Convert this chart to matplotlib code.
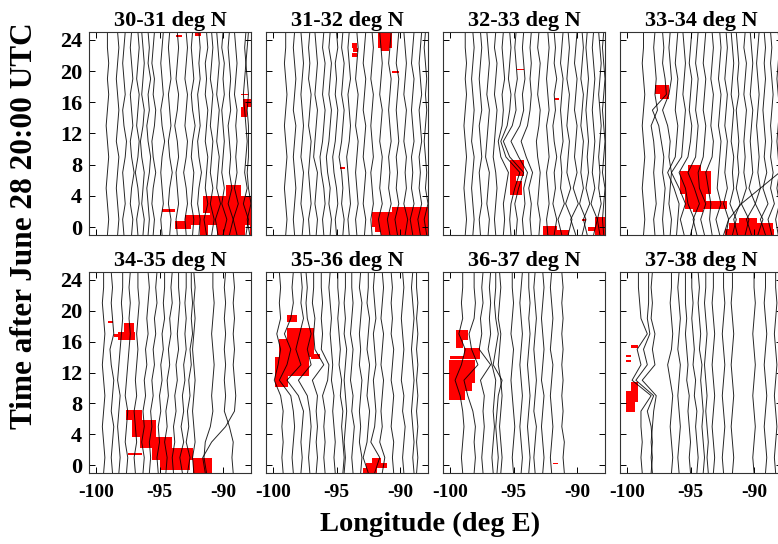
import matplotlib
matplotlib.use("Agg")
import matplotlib.pyplot as plt
from matplotlib.patches import Rectangle

plt.rcParams['font.family'] = ['Liberation Serif', 'DejaVu Serif']
plt.rcParams['font.weight'] = 'bold'
plt.rcParams['axes.unicode_minus'] = False

# hours after June 28 20:00 UTC at which each trajectory is sampled
HOURS = [-1, 1, 3, 5, 7, 9, 11, 13, 15, 17, 19, 21, 23, 25]

BANDS = ["30-31 deg N", "31-32 deg N", "32-33 deg N", "33-34 deg N",
         "34-35 deg N", "35-36 deg N", "36-37 deg N", "37-38 deg N"]
LON_TICKS = [-100, -95, -90]
TIME_TICKS = [0, 4, 8, 12, 16, 20, 24]

# ---- trajectory longitudes (deg E), one list per trajectory, sampled at HOURS ----
TRACKS_30 = [
    [-99.1, -99.0, -99.1, -99.2, -99.1, -99.0, -99.1, -99.2, -99.1, -99.0, -99.1, -99.0, -99.1, -99.1],
    [-98.3, -98.2, -98.3, -98.4, -98.3, -98.2, -98.4, -98.3, -98.2, -98.3, -98.4, -98.3, -98.2, -98.3],
    [-97.8, -97.9, -97.7, -97.8, -97.9, -97.7, -97.6, -97.8, -97.9, -97.7, -97.8, -97.9, -97.8, -97.7],
    [-97.2, -97.1, -97.3, -97.2, -97.0, -97.2, -97.3, -97.1, -97.2, -97.3, -97.1, -97.2, -97.3, -97.2],
    [-96.7, -96.8, -96.6, -96.7, -96.9, -96.7, -96.6, -96.8, -96.7, -96.6, -96.8, -96.7, -96.6, -96.7],
    [-96.3, -96.2, -96.4, -96.3, -96.2, -96.4, -96.5, -96.3, -96.2, -96.4, -96.3, -96.2, -96.3, -96.4],
    [-95.9, -95.8, -95.9, -96.0, -95.8, -95.7, -95.9, -96.0, -95.8, -95.9, -95.7, -95.9, -95.8, -95.9],
    [-95.5, -95.4, -95.6, -95.5, -95.3, -95.5, -95.6, -95.4, -95.3, -95.5, -95.4, -95.6, -95.5, -95.4],
    [-94.8, -94.9, -94.7, -94.8, -94.9, -94.8, -94.6, -94.8, -94.9, -94.7, -94.8, -94.9, -94.8, -94.7],
    [-94.2, -94.1, -94.3, -94.2, -94.0, -94.2, -94.3, -94.1, -94.2, -94.3, -94.1, -94.2, -94.3, -94.2],
    [-93.6, -93.7, -93.5, -93.6, -93.7, -93.5, -93.6, -93.8, -93.6, -93.5, -93.7, -93.6, -93.5, -93.6],
    [-92.9, -93.0, -92.8, -92.9, -93.1, -92.9, -92.8, -93.0, -92.9, -92.8, -93.0, -92.9, -92.8, -92.9],
    [-92.4, -92.3, -92.5, -92.4, -92.3, -92.5, -92.4, -92.2, -92.4, -92.5, -92.3, -92.4, -92.5, -92.4],
    [-91.9, -91.8, -92.0, -91.9, -91.7, -91.9, -92.0, -91.8, -91.9, -92.0, -91.8, -91.9, -91.8, -91.9],
    [-91.3, -91.5, -91.2, -91.4, -91.3, -91.2, -91.4, -91.3, -91.2, -91.4, -91.3, -91.4, -91.2, -91.3],
    [-90.9, -90.7, -91.0, -90.8, -91.0, -90.9, -90.8, -91.0, -90.9, -90.8, -91.0, -90.9, -90.8, -90.9],
    [-90.4, -90.6, -90.2, -90.5, -90.4, -90.3, -90.5, -90.4, -90.3, -90.5, -90.4, -90.3, -90.4, -90.5],
    [-90.0, -89.7, -90.1, -89.9, -90.1, -90.0, -89.9, -90.0, -90.1, -89.9, -90.0, -89.9, -90.1, -90.0],
    [-89.5, -89.2, -89.6, -89.3, -89.5, -89.4, -89.5, -89.6, -89.4, -89.5, -89.4, -89.5, -89.6, -89.5],
    [-88.9, -89.2, -88.8, -89.1, -88.9, -89.0, -88.9, -89.0, -88.9, -89.1, -89.0, -88.9, -89.0, -89.1],
    [-88.2, -88.0, -88.4, -88.1, -88.3, -88.2, -88.1, -88.2, -88.3, -88.4, -88.3, -88.2, -88.3, -88.2],
    [-87.9, -88.1, -87.8, -88.0, -88.1, -88.0, -88.0, -88.0, -88.1, -88.0, -88.1, -88.2, -88.1, -88.0],
]
TRACKS_31 = [
    [-99.0, -98.9, -99.0, -99.1, -99.0, -98.9, -99.0, -99.1, -99.0, -98.9, -99.0, -99.1, -99.0, -99.0],
    [-98.3, -98.4, -98.3, -98.2, -98.3, -98.4, -98.3, -98.2, -98.4, -98.3, -98.2, -98.3, -98.4, -98.3],
    [-97.7, -97.6, -97.8, -97.7, -97.6, -97.8, -97.7, -97.6, -97.7, -97.8, -97.7, -97.6, -97.7, -97.8],
    [-97.1, -97.2, -97.0, -97.1, -97.2, -97.1, -97.0, -97.2, -97.1, -97.0, -97.2, -97.1, -97.2, -97.1],
    [-96.6, -96.5, -96.7, -96.6, -96.5, -96.8, -96.7, -96.6, -96.5, -96.7, -96.6, -96.5, -96.6, -96.7],
    [-96.0, -96.1, -95.9, -96.0, -96.2, -96.3, -96.1, -96.0, -95.9, -96.1, -96.0, -95.9, -96.1, -96.0],
    [-95.5, -95.4, -95.6, -95.5, -95.7, -95.8, -95.6, -95.5, -95.4, -95.6, -95.5, -95.4, -95.6, -95.5],
    [-95.0, -95.1, -94.9, -95.0, -95.2, -95.3, -95.1, -95.0, -94.9, -95.1, -95.0, -95.1, -94.9, -95.0],
    [-94.5, -94.4, -94.6, -94.5, -94.6, -94.8, -94.6, -94.5, -94.4, -94.6, -94.5, -94.4, -94.6, -94.5],
    [-94.0, -94.1, -93.9, -94.0, -94.1, -94.2, -94.0, -93.9, -94.0, -94.1, -93.9, -94.0, -94.1, -94.0],
    [-93.4, -93.5, -93.3, -93.4, -93.5, -93.4, -93.3, -93.5, -93.4, -93.3, -93.5, -93.4, -93.3, -93.4],
    [-92.8, -92.7, -92.9, -92.8, -92.7, -92.9, -92.8, -92.7, -92.9, -92.8, -92.7, -92.9, -92.8, -92.7],
    [-92.2, -92.3, -92.1, -92.2, -92.3, -92.1, -92.2, -92.3, -92.2, -92.1, -92.3, -92.2, -92.1, -92.2],
    [-91.5, -91.7, -91.4, -91.6, -91.5, -91.4, -91.6, -91.5, -91.4, -91.6, -91.5, -91.4, -91.5, -91.6],
    [-90.8, -91.0, -90.7, -90.9, -90.8, -90.9, -90.7, -90.8, -90.9, -90.8, -90.7, -90.9, -90.8, -90.7],
    [-90.2, -90.4, -90.1, -90.3, -90.2, -90.3, -90.1, -90.2, -90.3, -90.2, -90.1, -90.3, -90.2, -90.1],
    [-89.6, -89.4, -89.7, -89.5, -89.6, -89.5, -89.7, -89.6, -89.5, -89.7, -89.6, -89.5, -89.6, -89.7],
    [-89.0, -89.2, -88.9, -89.1, -89.0, -89.1, -88.9, -89.0, -89.1, -89.0, -88.9, -89.1, -89.0, -88.9],
    [-88.4, -88.6, -88.3, -88.5, -88.4, -88.5, -88.3, -88.4, -88.5, -88.3, -88.4, -88.5, -88.4, -88.3],
    [-87.9, -88.1, -87.8, -88.0, -87.9, -88.0, -88.1, -88.0, -87.9, -88.0, -87.9, -88.0, -88.1, -88.0],
]
TRACKS_32 = [
    [-98.8, -98.7, -98.8, -98.9, -98.8, -98.7, -98.8, -98.9, -98.8, -98.7, -98.8, -98.7, -98.8, -98.8],
    [-98.2, -98.1, -98.2, -98.3, -98.2, -98.1, -98.3, -98.2, -98.1, -98.2, -98.3, -98.2, -98.1, -98.2],
    [-97.6, -97.7, -97.5, -97.6, -97.7, -97.5, -97.6, -97.7, -97.5, -97.6, -97.7, -97.6, -97.5, -97.6],
    [-97.0, -96.9, -97.1, -97.0, -96.9, -97.2, -97.1, -97.0, -96.9, -97.1, -97.0, -96.9, -97.0, -97.1],
    [-96.4, -96.5, -96.4, -96.3, -96.4, -96.6, -96.5, -96.4, -96.3, -96.5, -96.4, -96.3, -96.5, -96.4],
    [-95.8, -95.7, -95.8, -95.6, -95.4, -96.0, -96.2, -95.9, -95.8, -95.9, -95.7, -95.8, -95.9, -95.8],
    [-95.2, -95.3, -95.2, -94.9, -94.5, -95.6, -96.0, -95.5, -95.3, -95.2, -95.4, -95.3, -95.2, -95.3],
    [-94.8, -94.7, -94.9, -94.6, -94.2, -95.3, -95.8, -95.1, -94.8, -94.9, -94.7, -94.8, -94.9, -94.8],
    [-94.2, -94.3, -94.1, -94.2, -93.9, -94.6, -95.2, -94.5, -94.2, -94.3, -94.1, -94.2, -94.3, -94.2],
    [-93.6, -93.7, -93.6, -93.8, -93.5, -94.0, -94.4, -93.9, -93.7, -93.6, -93.7, -93.6, -93.7, -93.6],
    [-93.0, -92.9, -93.1, -93.0, -92.9, -93.1, -93.2, -93.0, -92.9, -93.1, -93.0, -92.9, -93.1, -93.0],
    [-92.3, -92.4, -92.2, -92.3, -92.4, -92.2, -92.3, -92.4, -92.2, -92.3, -92.4, -92.3, -92.2, -92.3],
    [-91.8, -91.6, -91.9, -91.7, -91.8, -91.6, -91.8, -91.9, -91.7, -91.8, -91.6, -91.8, -91.7, -91.8],
    [-91.2, -91.5, -91.0, -91.3, -91.2, -91.3, -91.1, -91.2, -91.3, -91.2, -91.1, -91.3, -91.2, -91.1],
    [-90.7, -90.4, -90.9, -90.5, -90.8, -90.7, -90.6, -90.8, -90.7, -90.6, -90.8, -90.7, -90.6, -90.7],
    [-90.1, -90.5, -89.9, -90.3, -90.0, -90.2, -90.1, -90.0, -90.2, -90.1, -90.0, -90.2, -90.1, -90.0],
    [-89.6, -89.3, -89.8, -89.5, -89.7, -89.6, -89.5, -89.7, -89.6, -89.5, -89.7, -89.6, -89.5, -89.6],
    [-89.2, -89.5, -89.0, -89.3, -89.1, -89.2, -89.1, -89.2, -89.3, -89.2, -89.1, -89.2, -89.3, -89.2],
    [-88.7, -88.4, -88.9, -88.6, -88.8, -88.7, -88.6, -88.7, -88.8, -88.7, -88.6, -88.7, -88.8, -88.7],
    [-88.2, -88.4, -88.1, -88.3, -88.2, -88.3, -88.2, -88.1, -88.2, -88.3, -88.2, -88.1, -88.2, -88.3],
    [-87.9, -88.0, -87.9, -87.8, -88.0, -87.9, -87.8, -87.9, -88.0, -87.9, -87.8, -87.9, -88.0, -87.9],
]
TRACKS_33 = [
    [-98.7, -98.6, -98.7, -98.8, -98.7, -98.6, -98.7, -98.8, -98.7, -98.6, -98.7, -98.8, -98.7, -98.7],
    [-97.8, -97.9, -97.7, -97.8, -97.9, -97.8, -97.9, -98.1, -97.6, -97.8, -97.7, -97.8, -97.9, -97.8],
    [-97.1, -97.2, -97.1, -97.0, -97.2, -97.1, -97.3, -97.5, -98.0, -96.9, -97.0, -97.2, -97.1, -97.2],
    [-96.6, -96.5, -96.7, -96.6, -96.5, -96.7, -96.6, -96.8, -97.2, -96.7, -96.5, -96.6, -96.7, -96.6],
    [-96.1, -96.0, -95.9, -96.3, -96.8, -96.2, -96.1, -96.0, -96.2, -96.1, -96.0, -96.2, -96.1, -96.0],
    [-95.5, -95.8, -95.4, -95.9, -96.5, -95.7, -95.6, -95.5, -95.4, -95.6, -95.5, -95.4, -95.5, -95.6],
    [-95.0, -94.7, -95.2, -95.4, -95.9, -95.2, -95.0, -94.9, -95.1, -95.0, -94.9, -95.1, -95.0, -94.9],
    [-94.5, -94.8, -94.3, -94.7, -95.2, -94.6, -94.5, -94.4, -94.6, -94.5, -94.4, -94.6, -94.5, -94.4],
    [-93.9, -94.2, -93.8, -94.3, -94.4, -94.0, -93.9, -93.8, -94.0, -93.9, -93.8, -94.0, -93.9, -93.8],
    [-93.3, -93.5, -93.4, -93.6, -93.8, -93.3, -93.2, -93.4, -93.3, -93.2, -93.4, -93.3, -93.2, -93.3],
    [-92.7, -93.0, -92.6, -92.9, -92.8, -92.7, -92.6, -92.8, -92.7, -92.6, -92.8, -92.7, -92.6, -92.7],
    [-92.2, -92.0, -92.4, -92.1, -92.3, -92.2, -92.1, -92.3, -92.2, -92.1, -92.3, -92.2, -92.1, -92.2],
    [-91.7, -91.4, -91.9, -91.6, -91.7, -91.6, -91.8, -91.7, -91.6, -91.8, -91.7, -91.6, -91.7, -91.8],
    [-91.3, -91.6, -91.1, -91.4, -91.2, -91.3, -91.2, -91.3, -91.4, -91.2, -91.3, -91.2, -91.3, -91.4],
    [-90.7, -90.4, -91.0, -90.6, -90.8, -90.7, -90.8, -90.7, -90.6, -90.8, -90.7, -90.6, -90.8, -90.7],
    [-90.2, -90.6, -89.9, -90.4, -90.1, -90.2, -90.3, -90.2, -90.1, -90.3, -90.2, -90.1, -90.2, -90.3],
    [-89.7, -89.3, -89.9, -89.5, -89.7, -89.6, -89.7, -89.8, -89.7, -89.6, -89.7, -89.8, -89.7, -89.6],
    [-89.1, -89.5, -88.9, -89.3, -89.0, -89.2, -89.1, -89.2, -89.3, -89.2, -89.1, -89.2, -89.1, -89.2],
    [-88.6, -88.9, -88.4, -88.7, -88.5, -88.7, -88.6, -88.7, -88.6, -88.5, -88.6, -88.7, -88.6, -88.7],
    [-88.1, -88.3, -88.0, -88.2, -88.0, -88.1, -88.2, -88.1, -88.0, -88.1, -88.2, -88.1, -88.0, -88.1],
    [-92.4, -92.0, -91.0, -89.5, -88.0, -87.9, -87.9, -88.0, -87.9, -87.8, -87.9, -88.0, -87.9, -87.8],
]
TRACKS_34 = [
    [-99.4, -99.3, -99.4, -99.5, -99.4, -99.3, -99.4, -99.5, -99.4, -99.3, -99.4, -99.5, -99.4, -99.4],
    [-98.7, -98.8, -98.7, -98.6, -98.8, -98.7, -98.6, -98.8, -98.9, -98.6, -98.7, -98.8, -98.7, -98.8],
    [-98.2, -98.1, -98.2, -98.3, -98.2, -98.1, -98.3, -98.2, -98.1, -98.0, -97.9, -98.0, -97.9, -97.9],
    [-97.6, -97.5, -97.7, -97.6, -97.5, -97.7, -97.6, -97.5, -97.4, -97.3, -97.4, -97.3, -97.4, -97.3],
    [-96.9, -97.0, -96.8, -96.9, -97.0, -96.8, -96.9, -96.8, -96.7, -96.8, -96.7, -96.6, -96.7, -96.7],
    [-96.3, -96.2, -96.4, -96.2, -96.3, -96.1, -96.2, -96.0, -96.1, -95.9, -96.0, -95.9, -95.8, -95.9],
    [-95.8, -95.7, -95.8, -95.6, -95.7, -95.5, -95.6, -95.4, -95.5, -95.3, -95.4, -95.2, -95.3, -95.2],
    [-95.1, -95.2, -95.0, -95.1, -94.9, -95.0, -94.8, -94.9, -94.7, -94.8, -94.6, -94.7, -94.6, -94.6],
    [-94.5, -94.4, -94.6, -94.4, -94.5, -94.3, -94.4, -94.2, -94.3, -94.1, -94.2, -94.0, -94.1, -94.0],
    [-93.9, -94.0, -93.8, -93.9, -93.7, -93.8, -93.6, -93.7, -93.5, -93.6, -93.5, -93.4, -93.5, -93.5],
    [-93.2, -93.4, -93.1, -93.3, -93.1, -93.2, -93.0, -93.1, -92.9, -93.0, -92.9, -93.0, -92.9, -92.9],
    [-92.8, -92.6, -92.9, -92.7, -92.8, -92.6, -92.7, -92.5, -92.6, -92.4, -92.5, -92.4, -92.5, -92.5],
    [-92.3, -92.4, -92.2, -92.3, -92.4, -92.3, -92.2, -92.3, -92.4, -92.3, -92.2, -92.3, -92.2, -92.3],
    [-91.3, -91.5, -91.4, -91.0, -90.8, -90.9, -90.8, -90.7, -90.8, -90.9, -90.8, -90.7, -90.8, -90.8],
    [-89.2, -89.3, -89.2, -89.5, -89.9, -89.8, -89.9, -89.8, -89.9, -89.8, -89.9, -89.8, -89.9, -89.8],
    [-91.4, -91.6, -90.9, -89.8, -89.1, -89.0, -89.1, -89.2, -89.1, -89.2, -89.1, -89.2, -89.1, -89.2],
]
TRACKS_35 = [
    [-99.2, -99.3, -99.2, -99.3, -99.2, -99.4, -99.9, -99.6, -99.4, -99.7, -99.4, -99.5, -99.4, -99.5],
    [-98.4, -98.5, -98.4, -98.3, -98.4, -98.6, -99.5, -98.9, -98.6, -99.1, -98.6, -98.4, -98.5, -98.4],
    [-97.8, -97.7, -97.8, -97.7, -97.6, -98.0, -98.9, -97.8, -98.2, -97.9, -97.6, -97.8, -97.7, -97.8],
    [-97.1, -97.2, -97.1, -97.0, -97.1, -97.3, -98.0, -97.0, -97.3, -97.0, -97.3, -97.4, -97.3, -97.4],
    [-96.6, -96.5, -96.6, -96.5, -96.6, -96.5, -96.9, -96.0, -96.7, -96.8, -96.7, -96.9, -96.8, -96.8],
    [-95.9, -96.0, -95.9, -96.0, -95.9, -96.1, -95.7, -95.6, -96.2, -96.1, -96.2, -96.1, -96.2, -96.2],
    [-95.1, -95.2, -95.1, -95.2, -95.3, -95.2, -95.4, -95.3, -95.4, -95.5, -95.4, -95.5, -95.6, -95.5],
    [-94.5, -94.4, -94.5, -94.6, -94.5, -94.7, -94.6, -94.8, -94.7, -94.8, -94.9, -94.8, -94.9, -94.9],
    [-94.4, -94.3, -94.4, -94.3, -94.2, -94.3, -94.4, -94.3, -94.2, -94.4, -94.3, -94.4, -94.3, -94.3],
    [-93.7, -93.8, -93.7, -93.6, -93.8, -93.7, -93.9, -93.8, -93.7, -93.9, -93.8, -93.7, -93.8, -93.8],
    [-93.1, -93.0, -93.2, -93.1, -93.2, -93.1, -93.0, -93.2, -93.1, -93.2, -93.1, -93.0, -93.2, -93.1],
    [-92.5, -92.9, -92.6, -92.5, -92.4, -92.6, -92.5, -92.4, -92.6, -92.5, -92.4, -92.6, -92.5, -92.5],
    [-92.0, -91.6, -92.3, -92.0, -91.9, -92.0, -92.1, -91.9, -92.0, -92.1, -91.9, -92.0, -92.1, -92.0],
    [-91.4, -91.2, -91.6, -91.4, -91.5, -91.4, -91.3, -91.5, -91.4, -91.3, -91.5, -91.4, -91.3, -91.4],
    [-90.5, -90.6, -90.5, -90.7, -90.6, -90.5, -90.7, -90.6, -90.5, -90.7, -90.6, -90.7, -90.6, -90.7],
    [-89.7, -89.8, -89.7, -89.6, -89.8, -89.7, -89.9, -89.8, -89.7, -89.8, -89.9, -89.8, -89.7, -89.8],
    [-88.9, -89.0, -88.9, -89.0, -89.1, -89.0, -88.9, -89.0, -89.1, -89.0, -88.9, -89.0, -89.1, -89.0],
    [-88.7, -88.6, -88.7, -88.6, -88.7, -88.6, -88.7, -88.6, -88.7, -88.6, -88.7, -88.6, -88.7, -88.7],
]
TRACKS_36 = [
    [-99.0, -99.1, -99.0, -98.9, -99.0, -99.2, -99.6, -99.1, -98.8, -99.3, -99.0, -99.1, -99.0, -99.0],
    [-98.1, -98.0, -98.1, -98.0, -98.2, -98.6, -98.9, -97.8, -98.3, -98.5, -98.1, -98.0, -98.1, -98.1],
    [-97.4, -97.5, -97.4, -97.3, -97.4, -97.3, -97.6, -96.8, -97.7, -97.5, -97.6, -97.4, -97.5, -97.4],
    [-96.6, -96.7, -96.6, -96.5, -96.6, -96.5, -96.4, -96.7, -97.0, -96.8, -96.9, -96.8, -96.9, -96.8],
    [-96.3, -96.2, -96.3, -96.4, -96.3, -96.2, -95.9, -96.6, -96.4, -96.2, -96.4, -96.5, -96.4, -96.4],
    [-96.0, -95.9, -96.0, -96.1, -96.0, -95.9, -96.0, -96.2, -96.1, -96.0, -96.2, -96.1, -96.0, -96.1],
    [-95.0, -95.1, -95.0, -94.9, -95.0, -95.1, -95.2, -95.1, -95.0, -95.2, -95.1, -95.0, -95.1, -95.1],
    [-94.4, -94.3, -94.4, -94.5, -94.4, -94.3, -94.4, -94.5, -94.4, -94.3, -94.4, -94.5, -94.4, -94.3],
    [-93.8, -93.7, -93.8, -93.9, -93.8, -93.7, -93.8, -93.9, -93.8, -93.7, -93.8, -93.7, -93.8, -93.8],
    [-93.3, -93.4, -93.3, -93.2, -93.4, -93.3, -93.2, -93.3, -93.4, -93.3, -93.2, -93.3, -93.4, -93.3],
    [-92.7, -92.6, -92.7, -92.8, -92.7, -92.6, -92.8, -92.7, -92.6, -92.7, -92.8, -92.7, -92.6, -92.7],
    [-92.0, -92.1, -92.0, -91.9, -92.0, -92.1, -92.0, -91.9, -92.1, -92.0, -91.9, -92.0, -92.1, -92.0],
    [-91.0, -91.1, -91.0, -91.2, -91.1, -91.2, -91.1, -91.2, -91.1, -91.2, -91.1, -91.2, -91.1, -91.2],
]
TRACKS_37 = [
    [-98.8, -98.9, -98.8, -98.9, -98.9, -98.1, -99.6, -98.9, -99.2, -98.4, -98.9, -99.0, -99.1, -99.1],
    [-98.0, -98.1, -98.0, -98.1, -98.4, -97.9, -99.3, -98.4, -98.7, -98.2, -98.4, -98.3, -98.3, -98.3],
    [-98.1, -98.0, -98.1, -98.0, -97.9, -97.7, -98.8, -97.8, -98.0, -97.8, -98.1, -98.0, -98.1, -98.0],
    [-96.5, -96.4, -96.5, -96.6, -96.5, -96.4, -96.6, -96.8, -96.5, -96.4, -96.5, -96.6, -96.5, -96.5],
    [-95.9, -96.0, -95.9, -95.8, -95.9, -96.0, -95.9, -95.8, -96.0, -95.9, -95.8, -95.9, -96.0, -95.9],
    [-95.0, -95.1, -95.0, -95.1, -95.2, -95.1, -95.3, -95.2, -95.3, -95.4, -95.3, -95.4, -95.4, -95.4],
    [-94.5, -94.4, -94.5, -94.6, -94.5, -94.7, -94.6, -94.8, -94.7, -94.8, -94.9, -94.8, -94.9, -94.9],
    [-94.0, -93.9, -94.0, -94.1, -94.0, -94.1, -94.2, -94.1, -94.3, -94.2, -94.3, -94.4, -94.3, -94.4],
    [-93.6, -93.7, -93.6, -93.7, -93.8, -93.7, -93.8, -93.9, -93.8, -93.7, -93.8, -93.9, -93.8, -93.8],
    [-93.2, -93.1, -93.2, -93.3, -93.2, -93.1, -93.2, -93.3, -93.2, -93.1, -93.2, -93.3, -93.2, -93.2],
    [-92.4, -92.5, -92.4, -92.3, -92.4, -92.5, -92.4, -92.3, -92.4, -92.5, -92.4, -92.3, -92.4, -92.4],
    [-91.7, -91.6, -91.7, -91.8, -91.7, -91.6, -91.7, -91.8, -91.7, -91.6, -91.7, -91.8, -91.7, -91.7],
    [-90.0, -90.1, -90.0, -89.9, -90.0, -90.1, -90.0, -89.9, -90.0, -90.1, -90.0, -89.9, -90.0, -90.0],
    [-89.1, -89.0, -89.1, -89.2, -89.1, -89.0, -89.1, -89.2, -89.1, -89.0, -89.1, -89.2, -89.1, -89.1],
    [-88.3, -88.4, -88.3, -88.2, -88.3, -88.4, -88.3, -88.2, -88.3, -88.4, -88.3, -88.2, -88.3, -88.3],
]

# ---- precipitation cells: (west lon, east lon, start hour, end hour) ----
RAIN_30 = [
    (-93.7, -93.2, 24.3, 24.6), (-92.2, -91.7, 24.5, 25.0),
    (-88.4, -87.5, 15.4, 16.4), (-88.6, -88.1, 14.1, 15.4), (-88.6, -88.0, 16.9, 17.1),
    (-89.8, -88.6, 4.0, 5.4), (-91.6, -87.5, 1.8, 4.0), (-91.0, -87.5, 0.3, 1.8),
    (-90.5, -88.3, -1.0, 0.3), (-87.9, -87.5, -1.0, 0.3), (-93.0, -91.0, 0.3, 1.5),
    (-93.8, -92.5, -0.2, 0.8), (-91.8, -91.2, -1.0, 0.5), (-94.8, -93.8, 2.0, 2.3),
]
RAIN_31 = [
    (-91.7, -90.6, 23.0, 25.0), (-91.5, -90.9, 22.6, 23.0),
    (-93.8, -93.4, 23.0, 23.6), (-93.7, -93.3, 22.5, 22.9), (-93.8, -93.4, 21.8, 22.3),
    (-90.6, -90.1, 19.8, 20.0), (-94.7, -94.3, 7.5, 7.7),
    (-92.2, -87.5, 0.0, 2.0), (-90.6, -87.6, 2.0, 2.6), (-91.5, -87.5, -1.0, 0.0),
    (-92.0, -91.5, -0.6, 0.0),
]
RAIN_32 = [
    (-95.3, -94.2, 6.6, 8.6), (-95.3, -94.8, 5.9, 6.6), (-95.3, -94.3, 4.1, 5.9),
    (-94.7, -94.2, 20.1, 20.3), (-91.7, -91.4, 16.3, 16.6),
    (-92.7, -91.6, -1.0, 0.2), (-91.6, -90.6, -1.0, -0.4),
    (-88.6, -87.5, -1.0, 1.3), (-89.1, -88.6, -0.5, 0.0), (-89.6, -89.3, 0.8, 1.0),
]
RAIN_33 = [
    (-97.8, -96.7, 17.0, 18.2), (-97.4, -96.7, 16.4, 17.0),
    (-95.2, -94.2, 7.2, 8.0), (-95.8, -93.4, 4.3, 7.2), (-95.4, -93.8, 2.3, 4.3),
    (-94.8, -94.0, 1.9, 2.3), (-93.8, -92.1, 2.3, 3.3),
    (-91.2, -89.8, 0.6, 1.2), (-92.0, -88.5, -0.2, 0.6), (-92.3, -88.4, -1.0, -0.2),
]
RAIN_34 = [
    (-99.05, -98.65, 18.4, 18.7), (-97.8, -97.0, 17.3, 18.4), (-98.3, -96.9, 16.2, 17.3),
    (-98.6, -98.3, 16.6, 17.0),
    (-97.6, -96.4, 5.8, 7.1), (-97.2, -95.3, 3.7, 5.8), (-96.5, -94.0, 2.2, 3.7),
    (-95.6, -92.4, 0.7, 2.2), (-95.0, -92.6, -0.6, 0.7), (-92.4, -90.9, -1.0, 0.9),
    (-97.5, -96.4, 1.35, 1.65),
]
RAIN_35 = [
    (-98.9, -98.1, 18.5, 19.4), (-98.9, -96.8, 16.3, 17.8), (-99.5, -96.8, 14.0, 16.3),
    (-97.0, -96.3, 13.8, 14.4), (-99.85, -97.2, 11.6, 14.0), (-99.85, -98.8, 10.1, 11.6),
    (-92.2, -91.5, 0.3, 0.9), (-92.7, -91.0, -0.4, 0.3), (-92.9, -91.8, -1.0, -0.4),
]
RAIN_36 = [
    (-99.5, -98.6, 16.2, 17.5), (-99.5, -99.0, 15.2, 16.2), (-98.9, -97.6, 14.1, 15.2),
    (-100.0, -97.6, 13.7, 14.1), (-100.05, -98.0, 10.6, 13.6), (-100.05, -98.8, 8.4, 10.6),
    (-98.8, -98.3, 9.6, 10.6), (-91.9, -91.5, 0.1, 0.35),
]
RAIN_37 = [
    (-99.65, -99.1, 15.2, 15.5), (-100.05, -99.65, 14.0, 14.3), (-100.05, -99.65, 13.4, 13.6),
    (-99.65, -99.1, 9.6, 10.8), (-100.05, -99.1, 8.2, 9.6), (-100.05, -99.4, 6.9, 8.2),
]

TRACKS = [TRACKS_30, TRACKS_31, TRACKS_32, TRACKS_33,
          TRACKS_34, TRACKS_35, TRACKS_36, TRACKS_37]
RAIN = [RAIN_30, RAIN_31, RAIN_32, RAIN_33, RAIN_34, RAIN_35, RAIN_36, RAIN_37]

W, H = 778, 544
fig = plt.figure(figsize=(W / 100, H / 100), dpi=100)

col_left = [89, 266, 443, 620]
row_span = [(32, 235), (272, 473)]
panel_w = 162

for i, (band, tracks, rain) in enumerate(zip(BANDS, TRACKS, RAIN)):
    r, c = divmod(i, 4)
    top, bot = row_span[r]
    ax = fig.add_axes([col_left[c] / W, 1 - bot / H, panel_w / W, (bot - top) / H])
    for lo, hi, t0, t1 in rain:
        ax.add_patch(Rectangle((lo, t0), hi - lo, t1 - t0, facecolor='#ff0000',
                               edgecolor='none', zorder=1))
    for tr in tracks:
        ax.plot(tr, HOURS, color='black', lw=0.7, alpha=0.85, zorder=2)
    ax.set_xlim(-100.55, -87.8)
    ax.set_ylim(-1, 25)
    ax.set_xticks(LON_TICKS)
    ax.set_yticks(TIME_TICKS)
    ax.tick_params(direction='in', top=True, right=True, length=4, width=0.7)
    ax.tick_params(axis='x', labelsize=14, pad=8)
    ax.tick_params(axis='y', labelsize=16, pad=5)
    for s in ax.spines.values():
        s.set_linewidth(0.8)
        s.set_color('#333333')
    if c != 0:
        ax.set_yticklabels([])
    else:
        for lab in ax.get_yticklabels():
            lab.set_fontweight('bold')
    if r == 0:
        ax.set_xticklabels([])
    else:
        for lab in ax.get_xticklabels():
            lab.set_fontweight('bold')
    ax.set_title(band, fontsize=16, fontweight='bold', pad=4)

fig.text(25 / W, 1 - 226 / H, "Time after June 28 20:00 UTC", rotation=90,
         ha='center', va='center', fontsize=22.5, fontweight='bold')
fig.text(430 / W, 1 - 524 / H, "Longitude (deg E)", ha='center', va='center',
         fontsize=20.5, fontweight='bold')

fig.savefig("out.png", dpi=100)
